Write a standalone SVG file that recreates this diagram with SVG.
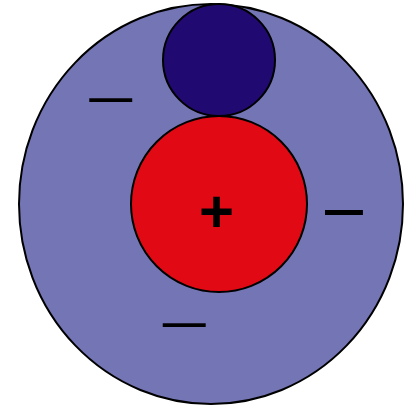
<svg xmlns="http://www.w3.org/2000/svg" width="405" height="409" viewBox="0 0 405 409">
  <style>
    .shape { stroke: #000; stroke-width: 2; }
    .sign { font-family: "Liberation Sans", Arial, sans-serif; fill: #000; text-anchor: middle; }
  </style>
  <rect width="405" height="409" fill="#fff"/>
  <g id="cell">
    <ellipse class="shape" cx="211" cy="204" rx="192" ry="200" fill="#7475b5"/>
  </g>
  <g id="dark-body">
    <circle class="shape" cx="219" cy="60" r="56" fill="#200a72"/>
  </g>
  <g id="nucleus">
    <circle class="shape" cx="219" cy="204" r="88" fill="#e10a14"/>
    <text class="sign" x="216.5" y="232" font-size="60" font-weight="bold">+</text>
  </g>
  <g id="charges">
    <text class="sign" x="110.7" y="114.7" font-size="57" textLength="43" lengthAdjust="spacingAndGlyphs">–</text>
    <text class="sign" x="344" y="232" font-size="76" textLength="38" lengthAdjust="spacingAndGlyphs">–</text>
    <text class="sign" x="184.2" y="340.2" font-size="57" textLength="43" lengthAdjust="spacingAndGlyphs">–</text>
  </g>
  <g id="connectors"></g>
</svg>
